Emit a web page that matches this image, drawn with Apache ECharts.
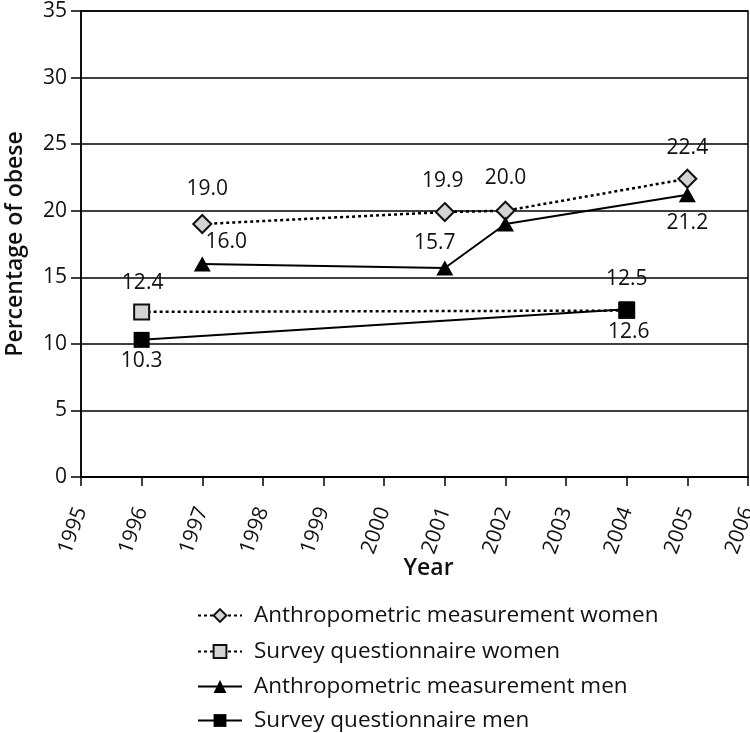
<!DOCTYPE html>
<html>
<head>
<meta charset="utf-8">
<script src="https://cdn.jsdelivr.net/npm/echarts@6/dist/echarts.min.js"></script>
<style>
html,body{margin:0;padding:0;background:#fff;}
#chart{width:750px;height:733px;}
</style>
</head>
<body>
<div id="chart"></div>
<script>
// ---- data ----
var seriesNames = [
  'Anthropometric measurement women',
  'Survey questionnaire women',
  'Anthropometric measurement men',
  'Survey questionnaire men'
];
var anthroWomenYears = [1997, 2001, 2002, 2005];
var anthroWomenValues = [19.0, 19.9, 20.0, 22.4];
var surveyWomenYears = [1996, 2004];
var surveyWomenValues = [12.4, 12.5];
var anthroMenYears = [1997, 2001, 2002, 2005];
var anthroMenValues = [16.0, 15.7, 19.0, 21.2];
var surveyMenYears = [1996, 2004];
var surveyMenValues = [10.3, 12.6];
// label texts shown beside points (null = no label)
var anthroWomenLabels = ['19.0', '19.9', '20.0', '22.4'];
var surveyWomenLabels = ['12.4', '12.5'];
var anthroMenLabels = ['16.0', '15.7', null, '21.2'];
var surveyMenLabels = ['10.3', '12.6'];

// ---- label placement (style, not data) ----
var anthroWomenOffsets = [[5, -35], [-2, -31], [0, -33], [0, -31]];
var surveyWomenOffsets = [[1, -29], [0, -32]];
var anthroMenOffsets = [[24, -22], [-10, -25], [0, 0], [0, 28]];
var surveyMenOffsets = [[0, 21], [2, 23]];
var legendTops = [604, 640, 675, 709];

var FONT = '"Open Sans", "Noto Sans", sans-serif';

function build(years, values, labels, offsets) {
  return years.map(function (y, i) {
    var item = { value: [y, values[i]] };
    if (labels[i] !== null) {
      item.label = {
        show: true,
        formatter: labels[i],
        position: 'inside',
        offset: offsets[i],
        color: '#111',
        fontSize: 21,
        fontFamily: FONT
      };
    }
    return item;
  });
}

var chart = echarts.init(document.getElementById('chart'), null, { renderer: 'canvas' });

var dotted = { color: '#000', width: 2.5, type: [3, 3] };
var solid = { color: '#000', width: 2 };

var legends = seriesNames.map(function (n, i) {
  return {
    orient: 'vertical', left: 197, top: legendTops[i], padding: 0,
    itemWidth: 44, itemHeight: 16,
    textStyle: { fontSize: 22.5, color: '#111', fontFamily: FONT, padding: [0, 0, 0, 7] },
    data: [n]
  };
});

var option = {
  animation: false,
  backgroundColor: '#fff',
  textStyle: { fontFamily: FONT, color: '#111' },
  grid: {
    left: 81, right: 2, top: 11, bottom: 256,
    outerBoundsMode: 'none', containLabel: false,
    show: true, borderColor: '#000', borderWidth: 1.5, backgroundColor: 'transparent'
  },
  xAxis: {
    type: 'value', min: 1995, max: 2006, interval: 1,
    name: 'Year', nameLocation: 'middle', nameGap: 80, nameMoveOverlap: false,
    nameTextStyle: { fontSize: 23, fontWeight: 600, color: '#111', fontFamily: FONT, padding: [0, 0, 0, 28] },
    axisLine: { show: true, lineStyle: { color: '#000', width: 1.5 } },
    axisTick: { show: true, length: 9, lineStyle: { color: '#000', width: 1.5 } },
    splitLine: { show: false },
    axisLabel: {
      rotate: 70, margin: 31, fontSize: 21, color: '#111', fontFamily: FONT,
      formatter: function (v) { return String(v); }
    }
  },
  yAxis: {
    type: 'value', min: 0, max: 35, interval: 5,
    name: 'Percentage of obese', nameLocation: 'middle', nameGap: 54,
    nameTextStyle: { fontSize: 23, fontWeight: 600, color: '#111', fontFamily: FONT },
    axisLine: { show: true, lineStyle: { color: '#000', width: 1.5 } },
    axisTick: { show: true, length: 10, lineStyle: { color: '#000', width: 1.5 } },
    splitLine: { show: true, lineStyle: { color: '#000', width: 1.5 } },
    axisLabel: { margin: 14, fontSize: 21, color: '#111', fontFamily: FONT }
  },
  legend: legends,
  series: [
    {
      name: seriesNames[0], type: 'line',
      data: build(anthroWomenYears, anthroWomenValues, anthroWomenLabels, anthroWomenOffsets),
      symbol: 'diamond', symbolSize: 18,
      itemStyle: { color: '#d3d3d3', borderColor: '#111', borderWidth: 2 },
      lineStyle: dotted
    },
    {
      name: seriesNames[1], type: 'line',
      data: build(surveyWomenYears, surveyWomenValues, surveyWomenLabels, surveyWomenOffsets),
      symbol: 'rect', symbolSize: 15,
      itemStyle: { color: '#d3d3d3', borderColor: '#111', borderWidth: 2 },
      lineStyle: dotted
    },
    {
      name: seriesNames[2], type: 'line',
      data: build(anthroMenYears, anthroMenValues, anthroMenLabels, anthroMenOffsets),
      symbol: 'triangle', symbolSize: [17, 15],
      itemStyle: { color: '#000', borderColor: '#000', borderWidth: 0 },
      lineStyle: solid
    },
    {
      name: seriesNames[3], type: 'line',
      data: build(surveyMenYears, surveyMenValues, surveyMenLabels, surveyMenOffsets),
      symbol: 'rect', symbolSize: 16,
      itemStyle: { color: '#000', borderColor: '#000', borderWidth: 0 },
      lineStyle: solid
    }
  ]
};
chart.setOption(option);
</script>
</body>
</html>
